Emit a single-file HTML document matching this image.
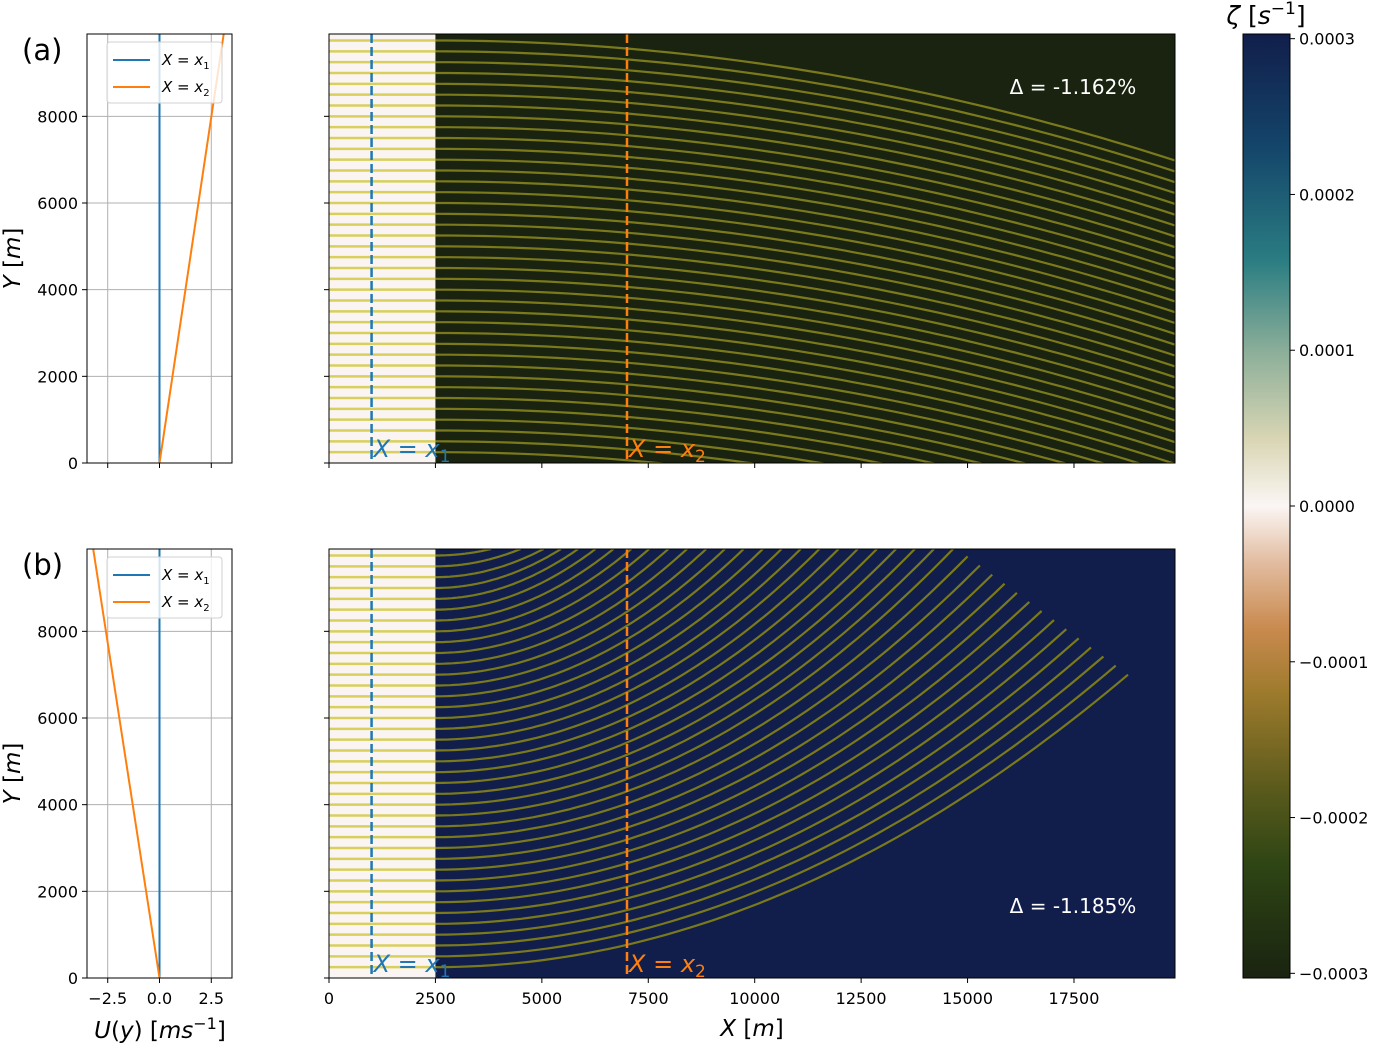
<!DOCTYPE html>
<html><head><meta charset="utf-8">
<style>
html,body{margin:0;padding:0;background:#fff;}
svg{display:block;font-family:"DejaVu Sans","Liberation Sans",sans-serif;}
</style></head>
<body>
<svg id="fig" width="1383" height="1046" viewBox="0 0 1383 1046" xmlns="http://www.w3.org/2000/svg">
<defs>
<linearGradient id="cmap" x1="0" y1="1" x2="0" y2="0">
<stop offset="0" stop-color="#1a2310"/>
<stop offset="0.12" stop-color="#2e4514"/>
<stop offset="0.2" stop-color="#5a5a1c"/>
<stop offset="0.3" stop-color="#9c7a2c"/>
<stop offset="0.37" stop-color="#c98a4e"/>
<stop offset="0.44" stop-color="#e2bca0"/>
<stop offset="0.5" stop-color="#fbf6f4"/>
<stop offset="0.57" stop-color="#d9d6b4"/>
<stop offset="0.66" stop-color="#8fb09a"/>
<stop offset="0.76" stop-color="#2a7d82"/>
<stop offset="0.88" stop-color="#14456a"/>
<stop offset="1" stop-color="#111e4b"/>
</linearGradient>
<clipPath id="clipA"><rect x="329" y="34" width="846" height="429"/></clipPath>
<clipPath id="clipB"><rect x="329" y="549" width="846" height="429"/></clipPath>
</defs>
<g id="root"></g>
</svg>
<script>
// ---- data ----
const streamStartY = [250,500,750,1000,1250,1500,1750,2000,2250,2500,2750,3000,3250,3500,3750,4000,4250,4500,4750,5000,5250,5500,5750,6000,6250,6500,6750,7000,7250,7500,7750,8000,8250,8500,8750,9000,9250,9500,9750];
const topDropAtRight = 2770; // m of downward deflection at x=19900 (panel a)
// panel b end points of each streamline (m), bottom line first
const bEndX = [18770,18480,18190,17900,17610,17320,17030,16740,16450,16160,15870,15580,15290,15000,14660,14210,13760,13320,12870,12420,11970,11520,11080,10630,10190,9740,9300,8860,8410,7970,7520,7100,6680,6260,5850,5450,5040,4500,3810];
const bEndY = [7000,7210,7420,7630,7840,8050,8260,8470,8680,8890,9100,9310,9520,9730,9900,9900,9900,9900,9900,9900,9900,9900,9900,9900,9900,9900,9900,9900,9900,9900,9900,9900,9900,9900,9900,9900,9900,9900,9900];
const profileTopX = [0,3.1];     // panel a orange: U at y=0, y=9900
const profileBotX = [0,-3.2];    // panel b orange
const profileY = [0,9900];
const xTicks = [0,2500,5000,7500,10000,12500,15000,17500];
const yTicks = [0,2000,4000,6000,8000];
const uTicks = [-2.5,0,2.5];
const uTickLabels = ["\u22122.5","0.0","2.5"];
const cbTicks = [0.0003,0.0002,0.0001,0,-0.0001,-0.0002,-0.0003];
const cbTickLabels = ["0.0003","0.0002","0.0001","0.0000","\u22120.0001","\u22120.0002","\u22120.0003"];
const x1 = 1000, x2 = 7000, xWall = 2500;

const NS="http://www.w3.org/2000/svg";
const root=document.getElementById('root');
function mk(tag,attrs,parent,text){const e=document.createElementNS(NS,tag);for(const k in attrs)e.setAttribute(k,attrs[k]);if(text!==undefined)e.textContent=text;(parent||root).appendChild(e);return e;}

const MX0=329,MX1=1175,XMAX=19873;
const mx=v=>MX0+v/XMAX*(MX1-MX0);
const panels=[{top:34,bot:463,name:'a'},{top:549,bot:978,name:'b'}];
const YMAX=9900;
const my=(p,v)=>p.bot-v/YMAX*(p.bot-p.top);
const LX0=87,LX1=232;
const ux=v=>LX0+(v+3.5)/7*(LX1-LX0);
const TF=16;

panels.forEach((p,pi)=>{
  const g=mk('g',{},root);
  
  
  uTicks.forEach(t=>{const l=mk('line',{x1:ux(t),x2:ux(t),y1:p.top,y2:p.bot,stroke:'#b0b0b0','stroke-width':1},g);});
  yTicks.forEach(t=>{const l=mk('line',{x1:LX0,x2:LX1,y1:my(p,t),y2:my(p,t),stroke:'#b0b0b0','stroke-width':1},g);});
  const bl=mk('line',{x1:ux(0),x2:ux(0),y1:p.top,y2:p.bot,stroke:'#1f77b4','stroke-width':2},g);
  
  const px=pi===0?profileTopX:profileBotX;
  const ol=mk('line',{x1:ux(px[0]),y1:my(p,profileY[0]),x2:ux(px[1]),y2:my(p,profileY[1]),stroke:'#ff7f0e','stroke-width':2},g);
  
  const fr=mk('rect',{x:LX0,y:p.top,width:LX1-LX0,height:p.bot-p.top,fill:'none',stroke:'#000','stroke-width':1},g);
  
  yTicks.forEach(t=>{const y=my(p,t);mk('line',{x1:LX0-5,x2:LX0,y1:y,y2:y,stroke:'#000'},g);
    const tx=mk('text',{x:LX0-9,y:y+6,'text-anchor':'end','font-size':TF},g,String(t));});
  uTicks.forEach((t,i)=>{mk('line',{x1:ux(t),x2:ux(t),y1:p.bot,y2:p.bot+5,stroke:'#000'},g);
    if(pi===1){const tx=mk('text',{x:ux(t),y:p.bot+26,'text-anchor':'middle','font-size':TF},g,uTickLabels[i]);}});
  const lg=mk('g',{},g);
  const ly=p.top+8;
  mk('rect',{x:107,y:ly,width:115,height:61,rx:3,fill:'#fff','fill-opacity':0.8,stroke:'#d0d0d0'},lg);
  mk('line',{x1:113,x2:150,y1:ly+18,y2:ly+18,stroke:'#1f77b4','stroke-width':2},lg);
  mk('line',{x1:113,x2:150,y1:ly+45,y2:ly+45,stroke:'#ff7f0e','stroke-width':2},lg);
  const t1=mk('text',{x:162,y:ly+23,'font-size':15,'font-style':'italic'},lg);t1.innerHTML='X<tspan font-style="normal"> = </tspan>x<tspan font-size="10" dy="4" font-style="normal">1</tspan>';
  
  const t2=mk('text',{x:162,y:ly+50,'font-size':15,'font-style':'italic'},lg);t2.innerHTML='X<tspan font-style="normal"> = </tspan>x<tspan font-size="10" dy="4" font-style="normal">2</tspan>';
  
  const pl=mk('text',{x:22,y:p.top+26,'font-size':29},root,'('+p.name+')');
  
  const yl=mk('text',{x:0,y:0,'font-size':23,'text-anchor':'middle',transform:`translate(20,${(p.top+p.bot)/2+10}) rotate(-90)`},root);
  yl.innerHTML='<tspan font-style="italic">Y</tspan> [<tspan font-style="italic">m</tspan>]';
  

  const m=mk('g',{'clip-path':pi===0?'url(#clipA)':'url(#clipB)'},root);
  
  mk('rect',{x:MX0,y:p.top,width:MX1-MX0,height:p.bot-p.top,fill:pi===0?'#1a2310':'#111e4b'},m);
  mk('rect',{x:MX0,y:p.top,width:mx(xWall)-MX0,height:p.bot-p.top,fill:'#faf5f3'},m);
  streamStartY.forEach((y0,i)=>{
    const hl=mk('line',{x1:MX0,x2:mx(xWall),y1:my(p,y0),y2:my(p,y0),stroke:'#d8cf5c','stroke-width':2.5},m);
    
    let pts=[];
    if(pi===0){
      const xe=XMAX;
      for(let k=0;k<=60;k++){const x=xWall+(xe-xWall)*k/60;const y=y0-topDropAtRight*Math.pow((x-xWall)/(xe-xWall),2);pts.push(mx(x).toFixed(1)+','+my(p,y).toFixed(1));}
    } else {
      const xe=bEndX[i],ye=bEndY[i];
      for(let k=0;k<=60;k++){const x=xWall+(xe-xWall)*k/60;const y=y0+(ye-y0)*Math.pow((x-xWall)/(xe-xWall),2);pts.push(mx(x).toFixed(1)+','+my(p,y).toFixed(1));}
    }
    const pl2=mk('polyline',{points:pts.join(' '),fill:'none',stroke:'#7a7a1c','stroke-width':2.2},m);
    
  });
  const d1=mk('line',{x1:mx(x1),x2:mx(x1),y1:p.top,y2:p.bot,stroke:'#1f77b4','stroke-width':2.5,'stroke-dasharray':'9,4'},m);
  
  const d2=mk('line',{x1:mx(x2),x2:mx(x2),y1:p.top,y2:p.bot,stroke:'#ff7f0e','stroke-width':2.5,'stroke-dasharray':'9,4'},m);
  
  const l1=mk('text',{x:mx(x1)+2,y:p.bot-6,'font-size':24,fill:'#1f77b4','font-style':'italic'},root);
  l1.innerHTML='X<tspan font-style="normal"> = </tspan>x<tspan font-size="17" dy="5" font-style="normal">1</tspan>';
  
  const l2=mk('text',{x:mx(x2)+2,y:p.bot-6,'font-size':24,fill:'#ff7f0e','font-style':'italic'},root);
  l2.innerHTML='X<tspan font-style="normal"> = </tspan>x<tspan font-size="17" dy="5" font-style="normal">2</tspan>';
  
  const dl=mk('text',{x:1073,y:pi===0?p.top+60:p.top+364,'font-size':20,fill:'#fff','text-anchor':'middle'},m,pi===0?'\u0394 = -1.162%':'\u0394 = -1.185%');
  
  const mf=mk('rect',{x:MX0,y:p.top,width:MX1-MX0,height:p.bot-p.top,fill:'none',stroke:'#000'},root);
  
  yTicks.forEach(t=>mk('line',{x1:MX0-5,x2:MX0,y1:my(p,t),y2:my(p,t),stroke:'#000'}));
  xTicks.forEach(t=>{mk('line',{x1:mx(t),x2:mx(t),y1:p.bot,y2:p.bot+5,stroke:'#000'});
    if(pi===1){const tx=mk('text',{x:mx(t),y:p.bot+26,'text-anchor':'middle','font-size':TF},root,String(t));}});
});
const xt=mk('text',{x:752,y:1036,'font-size':23,'text-anchor':'middle'});
xt.innerHTML='<tspan font-style="italic">X</tspan> [<tspan font-style="italic">m</tspan>]';

const ut=mk('text',{x:160,y:1038,'font-size':23,'text-anchor':'middle'});
ut.innerHTML='<tspan font-style="italic">U</tspan>(<tspan font-style="italic">y</tspan>) [<tspan font-style="italic">ms</tspan><tspan font-size="16" dy="-9">\u22121</tspan><tspan dy="9">]</tspan>';


const CB={x:1243,w:47,top:34,bot:978};
const cy=v=>CB.top+(0.000303-v)/0.000606*(CB.bot-CB.top);
const cb=mk('rect',{x:CB.x,y:CB.top,width:CB.w,height:CB.bot-CB.top,fill:'url(#cmap)',stroke:'#000'});

cbTicks.forEach((t,i)=>{const y=cy(t);mk('line',{x1:CB.x+CB.w,x2:CB.x+CB.w+5,y1:y,y2:y,stroke:'#000'});
  const tx=mk('text',{x:CB.x+CB.w+9,y:y+6,'font-size':TF},root,cbTickLabels[i]);});
const ct=mk('text',{x:1266,y:24,'font-size':25,'text-anchor':'middle'});
ct.innerHTML='<tspan font-style="italic">\u03B6</tspan> [<tspan font-style="italic">s</tspan><tspan font-size="17" dy="-10">\u22121</tspan><tspan dy="10">]</tspan>';

</script>
</body></html>
